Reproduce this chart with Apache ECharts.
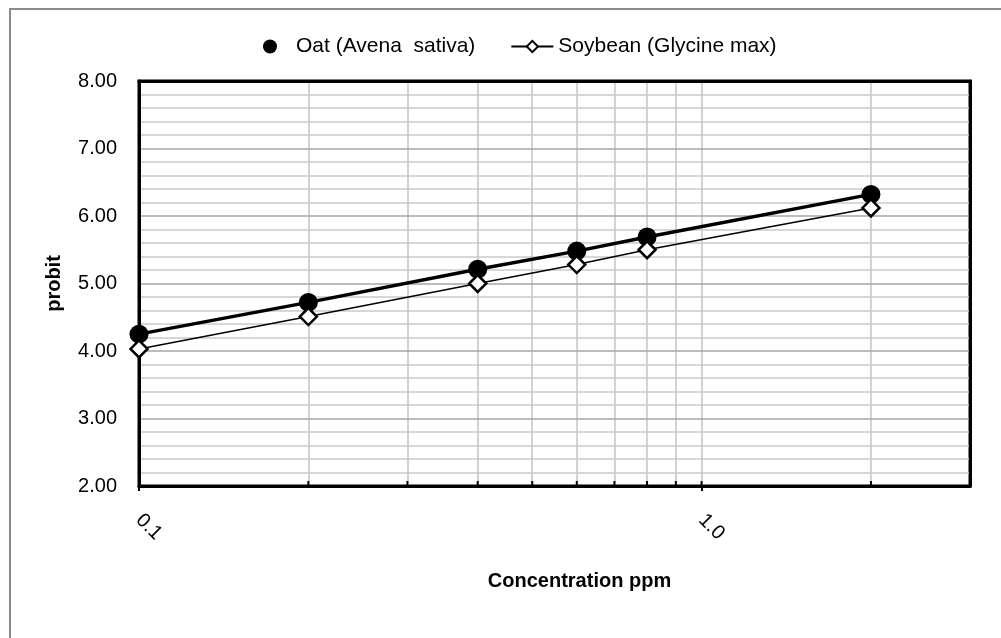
<!DOCTYPE html>
<html>
<head>
<meta charset="utf-8">
<script src="https://cdn.jsdelivr.net/npm/echarts@6/dist/echarts.min.js"></script>
<style>
  html, body { margin: 0; padding: 0; background: #fff; }
  #main { width: 1001px; height: 638px; }
</style>
</head>
<body>
<div id="main"></div>
<script>
// concentrations (ppm) and probit values
var concentration = [0.1, 0.2, 0.4, 0.6, 0.8, 2.0];
var oatProbit = [4.25, 4.72, 5.21, 5.48, 5.69, 6.32];
var soybeanProbit = [4.03, 4.51, 5.00, 5.28, 5.50, 6.12];
var seriesNames = ['Oat (Avena  sativa)', 'Soybean (Glycine max)'];
// minor log gridlines on the x axis
var xGridValues = [0.2, 0.3, 0.4, 0.5, 0.6, 0.7, 0.8, 0.9, 1, 2];

var font = 'Liberation Sans, Arial, sans-serif';

function pairs(xs, ys) {
  var out = [];
  for (var i = 0; i < xs.length; i++) out.push([xs[i], ys[i]]);
  return out;
}

var chart = echarts.init(document.getElementById('main'), null, { renderer: 'canvas' });

// plain black frame axis (top / right), no ticks or labels
var frameAxis = {
  axisLine: { show: true, lineStyle: { color: '#000', width: 3 } },
  axisTick: { show: false },
  axisLabel: { show: false },
  splitLine: { show: false },
  z: 3
};

var option = {
  backgroundColor: '#fff',
  animation: false,
  textStyle: { fontFamily: font, color: '#000' },
  graphic: [{
    type: 'rect',
    shape: { x: 10, y: 9, width: 1000, height: 640 },
    style: { fill: 'none', stroke: '#8c8c8c', lineWidth: 2 },
    silent: true
  }],
  legend: {
    left: 258,
    top: 31,
    itemWidth: 42,
    itemHeight: 14,
    itemGap: 35,
    textStyle: { fontSize: 21, fontFamily: font, color: '#000' },
    data: [
      { name: seriesNames[0], icon: 'circle', itemStyle: { color: '#000' } },
      { name: seriesNames[1] }
    ]
  },
  grid: {
    left: 139,
    right: 31,
    top: 81,
    bottom: 152,
    show: true,
    borderColor: '#000',
    borderWidth: 3,
    backgroundColor: '#fff'
  },
  xAxis: [{
    type: 'log',
    logBase: 10,
    min: 0.1,
    max: 3,
    name: 'Concentration ppm',
    nameLocation: 'middle',
    nameGap: 85,
    nameTextStyle: { fontSize: 20, fontWeight: 'bold', fontFamily: font, color: '#000', padding: [0, 0, 0, 50] },
    axisLine: { lineStyle: { color: '#000', width: 3 } },
    axisTick: { show: true, length: 5, lineStyle: { color: '#000', width: 2 } },
    axisLabel: {
      rotate: -45,
      margin: 31,
      fontSize: 20,
      fontFamily: font,
      color: '#000',
      showMaxLabel: false,
      formatter: function (v) {
        var l = Math.log(v) / Math.LN10;
        return Math.abs(l - Math.round(l)) < 1e-6 ? v.toFixed(1) : '';
      }
    },
    splitLine: { show: false },
    z: 3
  }, Object.assign({ type: 'log', logBase: 10, min: 0.1, max: 3, position: 'top' }, frameAxis)],
  yAxis: [{
    type: 'value',
    min: 2,
    max: 8,
    interval: 1,
    name: 'probit',
    nameLocation: 'middle',
    nameRotate: 90,
    nameGap: 75,
    nameTextStyle: { fontSize: 20, fontWeight: 'bold', fontFamily: font, color: '#000' },
    axisLine: { show: true, lineStyle: { color: '#000', width: 3 } },
    axisTick: { show: false },
    axisLabel: {
      margin: 22,
      fontSize: 20,
      fontFamily: font,
      color: '#000',
      formatter: function (v) { return v.toFixed(2); }
    },
    splitLine: { show: true, lineStyle: { color: '#a6a6a6', width: 1.5 } },
    minorTick: { show: false, splitNumber: 5 },
    minorSplitLine: { show: true, lineStyle: { color: '#cacaca', width: 1.5 } },
    z: 2
  }, Object.assign({ type: 'value', min: 2, max: 8, interval: 1, position: 'right' }, frameAxis)],
  series: [
    {
      type: 'line',
      name: 'gridlines',
      data: [],
      silent: true,
      z: 1,
      markLine: {
        silent: true,
        z: 1,
        symbol: ['none', 'none'],
        label: { show: false },
        emphasis: { disabled: true },
        lineStyle: { color: '#c4c4c4', width: 1.5, type: 'solid' },
        data: xGridValues.map(function (v) { return { xAxis: v }; })
      }
    },
    {
      type: 'custom',
      name: 'ticks',
      silent: true,
      z: 3,
      data: xGridValues.map(function (v) { return [v, 2]; }),
      renderItem: function (params, api) {
        var p = api.coord([api.value(0), api.value(1)]);
        return {
          type: 'line',
          shape: { x1: p[0], y1: p[1], x2: p[0], y2: p[1] - 5 },
          style: { stroke: '#000', lineWidth: 2 }
        };
      }
    },
    {
      type: 'line',
      name: seriesNames[0],
      data: pairs(concentration, oatProbit),
      symbol: 'circle',
      symbolSize: 19,
      z: 4,
      itemStyle: { color: '#000' },
      lineStyle: { color: '#000', width: 3.5 }
    },
    {
      type: 'line',
      name: seriesNames[1],
      data: pairs(concentration, soybeanProbit),
      symbol: 'diamond',
      symbolSize: 17,
      z: 5,
      itemStyle: { color: '#fff', borderColor: '#000', borderWidth: 2.5 },
      lineStyle: { color: '#000', width: 1.5 }
    }
  ]
};

chart.setOption(option);
</script>
</body>
</html>
